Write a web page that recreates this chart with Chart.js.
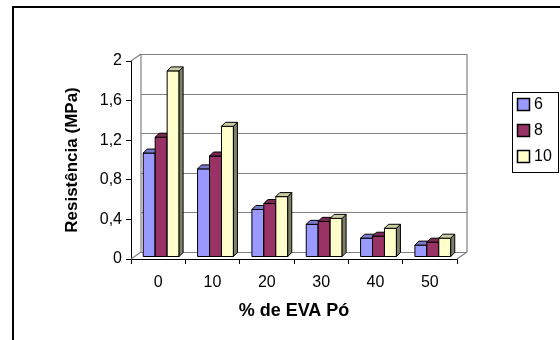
<!DOCTYPE html>
<html>
<head>
<meta charset="utf-8">
<script src="https://cdn.jsdelivr.net/npm/chart.js@4/dist/chart.umd.min.js"></script>
<style>
  html, body { margin: 0; padding: 0; background: #fff; }
  #wrap { width: 560px; height: 340px; }
</style>
</head>
<body>
<div id="wrap"><canvas id="chart" width="560" height="340"></canvas></div>
<script>
// values
const categories = ['0', '10', '20', '30', '40', '50'];
const seriesNames = ['6', '8', '10'];
const values6 = [1.05, 0.89, 0.48, 0.33, 0.19, 0.12];
const values8 = [1.21, 1.02, 0.54, 0.36, 0.21, 0.15];
const values10 = [1.88, 1.32, 0.61, 0.39, 0.29, 0.19];

const FONT = '"Liberation Sans", Arial, sans-serif';
const front = ['#9999ff', '#993366', '#ffffcc'];
const tops = ['#7a7acc', '#7a2952', '#cccca3'];
const sides = ['#4c4c80', '#4c1933', '#80806a'];

// depth of the back wall and of each bar
const WALL = { dx: 10, dy: -7 };
const BAR = { dx: 4, dy: -4 };
const SHIFT = { dx: 3, dy: -2 };

const comma = v => Number(v.toFixed(1)).toString().replace('.', ',');

function poly(ctx, pts, fill) {
    ctx.beginPath();
    pts.forEach((p, k) => k ? ctx.lineTo(p[0], p[1]) : ctx.moveTo(p[0], p[1]));
    ctx.closePath();
    ctx.fillStyle = fill;
    ctx.fill();
    ctx.stroke();
}

const frame = {
    id: 'frame',
    beforeDraw(chart) {
        const ctx = chart.ctx;
        ctx.save();
        ctx.fillStyle = '#fff';
        ctx.fillRect(0, 0, chart.width, chart.height);
        ctx.strokeStyle = '#000';
        ctx.lineWidth = 2;
        ctx.beginPath();
        ctx.moveTo(13, chart.height);
        ctx.lineTo(13, 7);
        ctx.lineTo(chart.width, 7);
        ctx.stroke();
        ctx.restore();
    },
    beforeDatasetsDraw(chart) {
        // back wall, gridlines and floor edges
        const ctx = chart.ctx;
        const a = chart.chartArea;
        const y = chart.scales.y;
        const l = a.left + WALL.dx, r = a.right + WALL.dx;
        ctx.save();
        ctx.strokeStyle = '#808080';
        ctx.lineWidth = 1.2;
        ctx.beginPath();
        y.ticks.forEach(t => {
            const py = Math.round(y.getPixelForValue(t.value) + WALL.dy) + 0.5;
            ctx.moveTo(l, py);
            ctx.lineTo(r, py);
        });
        const top = y.getPixelForValue(y.max) + WALL.dy;
        const bot = y.getPixelForValue(0) + WALL.dy;
        ctx.moveTo(l, top); ctx.lineTo(l, bot);
        ctx.moveTo(r, top); ctx.lineTo(r, bot);
        ctx.moveTo(a.left, a.top); ctx.lineTo(l, top);
        ctx.moveTo(a.left, a.bottom); ctx.lineTo(l, bot);
        ctx.moveTo(a.right, a.bottom); ctx.lineTo(r, bot);
        ctx.stroke();
        ctx.restore();
    },
    afterDatasetsDraw(chart) {
        // 3D bars, series drawn left to right so each covers its neighbour's side
        const ctx = chart.ctx;
        ctx.save();
        ctx.translate(SHIFT.dx, SHIFT.dy);
        ctx.strokeStyle = '#000';
        ctx.lineWidth = 1;
        ctx.lineJoin = 'miter';
        chart.data.datasets.forEach((ds, i) => {
            chart.getDatasetMeta(i).data.forEach(bar => {
                const { x, y, base, width } = bar.getProps(['x', 'y', 'base', 'width'], true);
                const L = x - width / 2, R = x + width / 2;
                poly(ctx, [[L, y], [R, y], [R, base], [L, base]], front[i]);
                poly(ctx, [[R, y], [R + BAR.dx, y + BAR.dy], [R + BAR.dx, base + BAR.dy], [R, base]], sides[i]);
                poly(ctx, [[L, y], [L + BAR.dx, y + BAR.dy], [R + BAR.dx, y + BAR.dy], [R, y]], tops[i]);
            });
        });
        ctx.restore();
    },
    afterDraw(chart) {
        // legend box on the right
        const ctx = chart.ctx;
        const bx = chart.chartArea.right + 55, by = 92;
        ctx.save();
        ctx.strokeStyle = '#000';
        ctx.lineWidth = 1;
        ctx.strokeRect(bx + 0.5, by + 0.5, 46, 80);
        ctx.font = '16px ' + FONT;
        ctx.textBaseline = 'middle';
        ctx.textAlign = 'left';
        chart.data.datasets.forEach((ds, i) => {
            const cy = by + 13 + i * 26;
            ctx.fillStyle = front[i];
            ctx.fillRect(bx + 5.5, cy - 6.5, 12, 12);
            ctx.lineWidth = 1.5;
            ctx.strokeRect(bx + 5.5, cy - 6.5, 12, 12);
            ctx.fillStyle = '#000';
            ctx.fillText(ds.label, bx + 22, cy);
        });
        ctx.restore();
    }
};

new Chart(document.getElementById('chart'), {
    type: 'bar',
    data: {
        labels: categories,
        datasets: [values6, values8, values10].map((vals, i) => ({
            label: seriesNames[i],
            data: vals,
            backgroundColor: 'rgba(0,0,0,0)',
            borderWidth: 0
        }))
    },
    options: {
        responsive: false,
        animation: false,
        events: [],
        layout: { padding: { left: 58, right: 103, top: 61, bottom: 14 } },
        datasets: { bar: { barPercentage: 1, categoryPercentage: 0.66 } },
        plugins: {
            legend: { display: false },
            tooltip: { enabled: false }
        },
        scales: {
            x: {
                afterFit: s => { s.height = 67; },
                grid: {
                    offset: true,
                    drawOnChartArea: false,
                    tickLength: 5,
                    color: '#000'
                },
                border: { color: '#000', width: 1 },
                ticks: {
                    color: '#000',
                    padding: 9,
                    font: { family: FONT, size: 16 }
                },
                title: {
                    display: true,
                    text: '% de EVA Pó',
                    color: '#000',
                    font: { family: FONT, size: 18, weight: 'bold' }
                }
            },
            y: {
                min: 0,
                max: 2,
                afterFit: s => { s.width = 73; },
                grid: {
                    drawOnChartArea: false,
                    tickLength: 5,
                    color: '#000'
                },
                border: { color: '#000', width: 1 },
                ticks: {
                    stepSize: 0.4,
                    color: '#000',
                    padding: 4,
                    font: { family: FONT, size: 16 },
                    callback: v => comma(v)
                },
                title: {
                    display: true,
                    text: 'Resistência (MPa)',
                    color: '#000',
                    font: { family: FONT, size: 17, weight: 'bold' }
                }
            }
        }
    },
    plugins: [frame]
});
</script>
</body>
</html>
